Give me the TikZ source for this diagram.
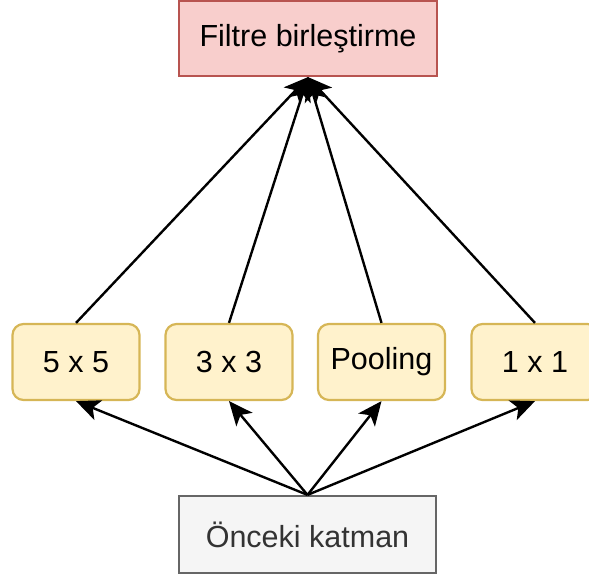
\documentclass[tikz,border=0pt]{standalone}
\usepackage{fontspec}
\setmainfont{Liberation Sans}
\usetikzlibrary{arrows.meta}
\definecolor{redfill}{HTML}{F8CECC}
\definecolor{redline}{HTML}{B85450}
\definecolor{yelfill}{HTML}{FFF2CC}
\definecolor{yelline}{HTML}{D6B656}
\definecolor{grayfill}{HTML}{F5F5F5}
\definecolor{grayline}{HTML}{666666}
\definecolor{graytext}{HTML}{333333}
\begin{document}
\begin{tikzpicture}[x=1pt,y=-1pt,
  font=\fontsize{30.5}{36}\selectfont,
  boxbase/.style={draw,line width=2.2pt,inner sep=0pt,minimum height=76pt},
  outbox/.style={boxbase,fill=redfill,draw=redline,minimum width=258pt,minimum height=75pt},
  branch/.style={boxbase,fill=yelfill,draw=yelline,rounded corners=11pt,minimum width=127pt},
  inbox/.style={boxbase,fill=grayfill,draw=grayline,text=graytext,minimum width=257pt,minimum height=77pt},
  link/.style={line width=2.4pt,-{Stealth[length=24pt,width=21pt,inset=6pt]}}
]
\useasboundingbox (0,0) rectangle (589,579);

% nodes
\node[outbox] (top) at (308,38.5) {Filtre birleştirme};
\node[branch] (b1) at (76,362) {5 x 5};
\node[branch] (b2) at (229,362) {3 x 3};
\node[branch] (b3) at (381.5,362) {Pooling};
\node[branch] (b4) at (535,362) {1 x 1};
\node[inbox] (bot) at (307.5,534.5) {Önceki katman};

% previous layer feeds every branch
\foreach \b in {b1,b2,b3,b4}
  \draw[link] (bot.north) -- (\b.south);

% every branch feeds the concatenation
\foreach \b in {b1,b2,b3,b4}
  \draw[link] (\b.north) -- (top.south);
\end{tikzpicture}
\end{document}
